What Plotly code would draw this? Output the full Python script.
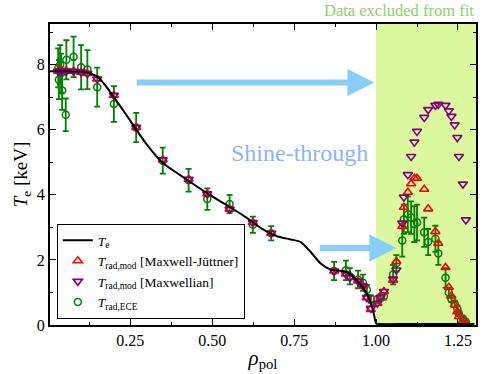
import plotly.graph_objects as go

# ---- data ----
te_rho = [0.0, 0.05, 0.10, 0.13, 0.15, 0.175, 0.20, 0.235, 0.27, 0.30, 0.35, 0.40, 0.45,
          0.50, 0.55, 0.60, 0.65, 0.70, 0.74, 0.77, 0.80, 0.83, 0.86, 0.88, 0.90, 0.92,
          0.945, 0.96, 0.97, 0.984, 0.994, 1.0, 1.01, 1.10, 1.20, 1.30]
te_val = [7.80, 7.80, 7.78, 7.72, 7.62, 7.35, 7.00, 6.50, 5.98, 5.55, 4.97, 4.62, 4.28,
          3.95, 3.65, 3.33, 2.97, 2.72, 2.63, 2.55, 2.25, 1.90, 1.71, 1.67, 1.66, 1.57,
          1.33, 1.15, 1.00, 0.67, 0.31, 0.05, 0.03, 0.03, 0.03, 0.03]

ch_rho = [0.030, 0.032, 0.036, 0.039, 0.042, 0.053, 0.055, 0.077, 0.100, 0.119, 0.149,
          0.200, 0.268, 0.349, 0.428, 0.485, 0.553, 0.624, 0.680, 0.872, 0.908, 0.920,
          0.945, 0.960, 0.972, 0.984, 1.004, 1.014, 1.024,
          1.052, 1.062, 1.080, 1.085, 1.097, 1.107, 1.117, 1.125, 1.147, 1.159, 1.181,
          1.190, 1.212, 1.222, 1.230, 1.240, 1.248, 1.253, 1.265, 1.274]
trad_mj = [7.80, 7.80, 7.80, 7.80, 7.80, 7.80, 7.80, 7.80, 7.77, 7.73, 7.56,
           7.06, 6.07, 5.08, 4.48, 4.03, 3.56, 3.15, 2.82, 1.66, 1.57, 1.46,
           1.35, 1.20, 0.84, 0.48, 0.67, 0.85, 1.03,
           1.38, 1.95, 3.03, 3.62, 4.08, 4.34, 4.51, 4.51, 4.17, 3.57, 2.87,
           2.51, 1.77, 1.16, 0.89, 0.62, 0.41, 0.26, 0.12, 0.07]
trad_max = [7.80, 7.80, 7.80, 7.80, 7.80, 7.80, 7.80, 7.80, 7.77, 7.73, 7.56,
            7.06, 6.07, 5.08, 4.48, 4.03, 3.56, 3.15, 2.82, 1.66, 1.57, 1.46,
            1.35, 1.20, 0.84, 0.51, 0.67, 0.85, 1.03,
            1.41, 1.69, 3.13, 3.93, 4.62, 5.18, 5.62, 5.95, 6.38, 6.62, 6.75,
            6.78, 6.75, 6.58, 6.41, 6.15, 5.76, 5.18, 4.33, 3.23]
trad_ece = [7.90, 7.54, 8.00, 7.74, 7.21, 6.46, 8.15, 8.24, 7.92, 7.85, 7.31,
            6.79, 6.07, 5.05, 4.45, 3.87, 3.72, 3.08, 2.82, 1.66, 1.68, 1.50,
            1.40, 1.30, 1.08, 0.80, 0.78, 0.85, 0.88,
            1.55, 1.90, 2.60, 3.25, 3.40, 3.30, 3.10, 3.15, 2.85, 2.55, 2.65,
            2.20, 1.45, 1.00, 0.80, 0.65, 0.50, 0.35, 0.20, 0.10]
ece_err = [0.60, 0.60, 0.60, 0.60, 0.60, 0.50, 0.60, 0.62, 0.68, 0.60, 0.60,
           0.55, 0.45, 0.40, 0.35, 0.33, 0.28, 0.25, 0.22, 0.28, 0.30, 0.25,
           0.27, 0.25, 0.15, 0.12, 0.10, 0.10, 0.10,
           0.30, 0.25, 0.50, 0.45, 0.55, 0.50, 0.55, 0.55, 0.45, 0.40, 0.40,
           0.35, 0.30, 0.15, 0.10, 0.10, 0.10, 0.08, 0.05, 0.05]

x_ticks = [0.25, 0.50, 0.75, 1.00, 1.25]
x_ticklabels = ["0.25", "0.50", "0.75", "1.00", "1.25"]
y_ticks = [0, 2, 4, 6, 8]
x_range = [0.005, 1.305]
y_range = [0, 9.25]
excl_start = 1.0

FONT = "Liberation Serif"

fig = go.Figure()

fig.add_trace(go.Scatter(
    x=ch_rho, y=trad_ece, mode="markers",
    error_y=dict(type="data", array=ece_err, color="#008000", thickness=1.8, width=3),
    marker=dict(symbol="circle-open", size=7, color="#008000", line=dict(width=1.5)),
    name="<i>T</i><sub>rad,ECE</sub>", legendrank=4))
fig.add_trace(go.Scatter(
    x=ch_rho, y=trad_mj, mode="markers",
    marker=dict(symbol="triangle-up-open", size=8, color="#ff0000", line=dict(width=1.6)),
    name="<i>T</i><sub>rad,mod</sub> [Maxwell-Jüttner]", legendrank=2))
fig.add_trace(go.Scatter(
    x=ch_rho, y=trad_max, mode="markers",
    marker=dict(symbol="triangle-down-open", size=8, color="#800080", line=dict(width=1.6)),
    name="<i>T</i><sub>rad,mod</sub> [Maxwellian]", legendrank=3))
fig.add_trace(go.Scatter(
    x=te_rho, y=te_val, mode="lines", line=dict(color="black", width=2, shape="spline", smoothing=0.6),
    name="<i>T</i><sub>e</sub>", legendrank=1))

fig.add_shape(type="rect", xref="x", yref="y domain", x0=excl_start, x1=x_range[1],
              y0=0, y1=1, fillcolor="#ddf9a0", line=dict(width=0), layer="below")

fig.add_annotation(x=0.995, y=7.45, ax=0.265, ay=7.45, xref="x", yref="y", axref="x", ayref="y",
                   text="", showarrow=True, arrowhead=2, arrowsize=0.9, arrowwidth=6,
                   arrowcolor="#87cefa")
fig.add_annotation(x=1.062, y=2.37, ax=0.824, ay=2.37, xref="x", yref="y", axref="x", ayref="y",
                   text="", showarrow=True, arrowhead=2, arrowsize=0.9, arrowwidth=6,
                   arrowcolor="#87cefa")
fig.add_annotation(x=0.767, y=5.29, xref="x", yref="y", text="Shine-through", showarrow=False,
                   font=dict(family=FONT, size=24, color="#8fb2fa"))
fig.add_annotation(x=1.0, y=1.0, xref="paper", yref="paper", xanchor="right", yanchor="bottom",
                   text="Data excluded from fit", showarrow=False, yshift=2,
                   font=dict(family=FONT, size=16.5, color="#8fd06f"))

axis_common = dict(showline=True, linecolor="black", linewidth=2, mirror="ticks",
                   ticks="inside", ticklen=6, tickwidth=1.2, tickcolor="black",
                   showgrid=False, zeroline=False,
                   tickfont=dict(family=FONT, size=16, color="black"))
fig.update_xaxes(range=x_range, tickvals=x_ticks, ticktext=x_ticklabels,
                 minor=dict(ticks="inside", ticklen=3, dtick=0.125, tick0=0, tickcolor="black", showgrid=False),
                 title=dict(text="<i>ρ</i><sub>pol</sub>", font=dict(family=FONT, size=21, color="black"), standoff=2),
                 **axis_common)
fig.update_yaxes(range=y_range, tickvals=y_ticks,
                 minor=dict(ticks="inside", ticklen=3, dtick=1, tick0=0, tickcolor="black", showgrid=False),
                 title=dict(text="<i>T</i><sub>e</sub> [keV]", font=dict(family=FONT, size=19, color="black"), standoff=4),
                 **axis_common)

fig.update_layout(
    width=483, height=374,
    margin=dict(l=50, r=5, t=24, b=49),
    plot_bgcolor="white", paper_bgcolor="white",
    font=dict(family=FONT, color="black"),
    legend=dict(x=0.016, y=0.02, xanchor="left", yanchor="bottom",
                bgcolor="white", bordercolor="black", borderwidth=1,
                font=dict(family=FONT, size=13.5, color="black"),
                tracegroupgap=0, itemwidth=30),
    showlegend=True,
)

# remove the default page margin so the figure sits at the window's top-left corner
fig.write_html("out.html", config={"displayModeBar": False},
               post_script="document.body.style.margin='0';document.body.style.overflow='hidden';")
